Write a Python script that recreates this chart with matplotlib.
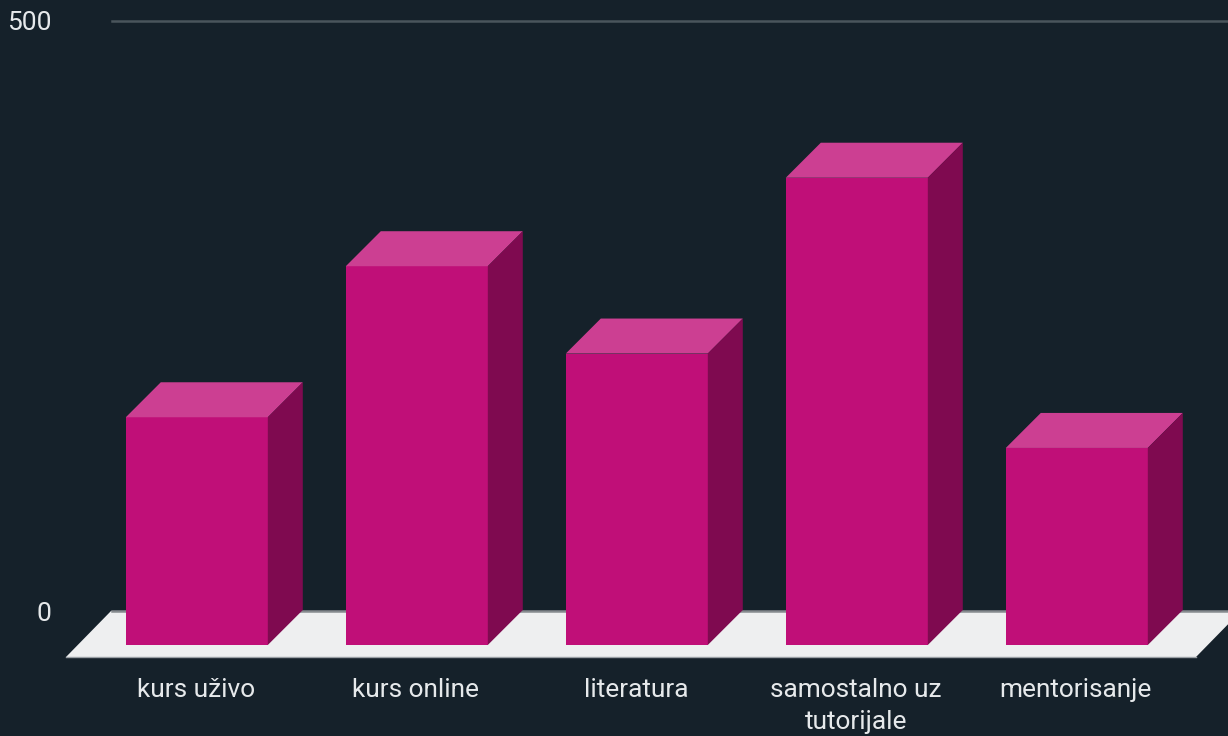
import matplotlib
matplotlib.use("Agg")
import matplotlib.pyplot as plt
from matplotlib.patches import Polygon

categories = ["kurs uživo", "kurs online", "literatura", "samostalno uz\ntutorijale", "mentorisanje"]
values = [193, 321, 247, 396, 167]
y_ticks = [0, 500]

bg = "#15212a"
px_per_unit = 1.18
px_per_cat = 220.0
depth = 35

plt.rcParams["font.family"] = ["Roboto", "DejaVu Sans"]

fig = plt.figure(figsize=(12.28, 7.36), dpi=100, facecolor=bg)
ax = fig.add_axes([0, 0, 1, 1], facecolor=bg)
ax.set_xlim(-196.8 / px_per_cat, (1228 - 196.8) / px_per_cat)
ax.set_ylim(-91 / px_per_unit, 645 / px_per_unit)
ax.axis("off")

dx = depth / px_per_cat
dy = depth / px_per_unit
half = 71.0 / px_per_cat
x0 = ax.get_xlim()[0]
x1 = ax.get_xlim()[1]

# floor, back wall is 34px above the bars' front edge
back = 34 / px_per_unit
front = -12 / px_per_unit
floor = Polygon([(x0 + 66 / px_per_cat, front), (x0 + 111 / px_per_cat, back),
                 (x0 + 1241 / px_per_cat, back), (x0 + 1196 / px_per_cat, front)],
                facecolor="#eeeff0", edgecolor="none", zorder=1)
ax.add_patch(floor)
ax.plot([x0 + 66 / px_per_cat, x0 + 1196 / px_per_cat], [front, front], color="#9aa0a5", lw=1, zorder=1)

# gridlines and value labels
for t in y_ticks:
    col = "#4a555c" if t else "#858a8e"
    ax.plot([x0 + 111.5 / px_per_cat, x1], [t + back, t + back], color=col, lw=1.8, zorder=1.5)
    shift = 1.5 if t else 3
    ax.text(x0 + 51.5 / px_per_cat, t + back - shift / px_per_unit, str(t), color="#e6e9eb", fontsize=19,
            ha="right", va="center", zorder=5)

xs = range(len(values))
ax.bar(xs, values, width=2 * half, color="#c00f78", zorder=3)
for i, v in zip(xs, values):
    ax.add_patch(Polygon([(i - half, v), (i + half, v), (i + half + dx, v + dy), (i - half + dx, v + dy)],
                         facecolor="#cc3f92", edgecolor="none", zorder=3))
    ax.add_patch(Polygon([(i + half, 0), (i + half + dx, dy), (i + half + dx, v + dy), (i + half, v)],
                         facecolor="#7f0a50", edgecolor="none", zorder=3))
    ax.text(i - 1 / px_per_cat, -33 / px_per_unit, categories[i], color="#e6e9eb", fontsize=18.9,
            ha="center", va="top", zorder=5, linespacing=1.4)

fig.savefig("out.png", dpi=100, facecolor=bg)
